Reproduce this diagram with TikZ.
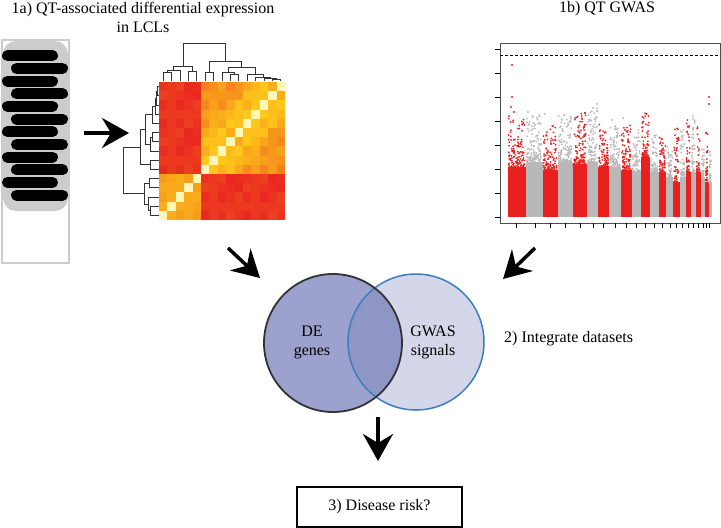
\documentclass[tikz,border=0pt]{standalone}
\usepackage{fontspec}
\setmainfont{Liberation Serif}
\usetikzlibrary{arrows.meta,positioning}
\definecolor{hmRed}{RGB}{233,36,32}
\definecolor{hmYel}{RGB}{255,214,26}
\definecolor{hmPale}{RGB}{255,246,184}
\definecolor{gwRed}{RGB}{232,32,30}
\definecolor{gwGray}{RGB}{184,184,184}
\definecolor{tubeGray}{RGB}{204,204,204}
\definecolor{vennA}{RGB}{157,161,205}
\definecolor{vennB}{RGB}{212,214,233}
\definecolor{vennAB}{RGB}{143,149,196}
\definecolor{vennLine}{RGB}{60,125,192}
% dendrogram joins: top (x1,x2,height,h1,h2) and left (y1,y2,depth,d1,d2)
\def\TJ#1#2#3#4#5{\draw[dendro] (#1,#4) |- (#2,#3) -- (#2,#5);}
\def\LJ#1#2#3#4#5{\draw[dendro] (#4,#1) -| (#3,#2) -- (#5,#2);}

\begin{document}
\begin{tikzpicture}[x=1pt,y=-1pt,
  dendro/.style={line width=0.8pt,black!80},
  bigarrow/.style={line width=3.5pt,-{Stealth[length=27pt,width=30pt,inset=9pt]}},
  bar/.style={line width=11pt,line cap=round},
  lbl/.style={font=\fontsize{16}{19}\selectfont,align=center,inner sep=0pt},
  tick/.style={line width=0.8pt}]
\useasboundingbox (0,0) rectangle (721,528);
\node[lbl] (titleA) at (143,17) {1a) QT-associated differential expression\\in LCLs};
\node[lbl] (titleB) at (607,9) {1b) QT GWAS};
% sample tube
\fill[tubeGray,rounded corners=13pt] (3,41) rectangle (68,211);
\draw[tubeGray,line width=2pt] (2,40) rectangle (69,263);
\foreach \k in {0,...,11}{
  \pgfmathsetmacro\yb{55.7+12.67*\k}
  \ifodd\k \draw[bar] (16.5,\yb) -- (62.5,\yb); \else \draw[bar] (7.5,\yb) -- (52.5,\yb); \fi
}
\coordinate (tubeOut) at (84,133);
\coordinate (heatIn) at (129,133);
\draw[bigarrow] (tubeOut) -- (heatIn);
% heatmap
\begin{scope}
\clip (159,81) rectangle (285,220);
\foreach \i in {0,...,14}{
  \foreach \j in {0,...,14}{
    \pgfmathsetmacro\n{mod(\i*\j*7+(\i+\j)*3,5)/4}
    \pgfmathsetmacro\sA{(\i<5)*(\j<5)}
    \pgfmathsetmacro\sB{(\i>4)*(\j>4)}
    \pgfmathtruncatemacro\pc{max(0,min(95,100*(\sA*(0.72+0.12*\n-0.03*abs(\i-\j))+\sB*(0.92-0.045*abs(\i-\j)+0.2*(\n-0.5))+(1-\sA-\sB)*(0.02+0.13*\n))))}
    \ifnum\i=\j\relax \def\cc{hmPale}\else \edef\cc{hmYel!\pc!hmRed}\fi
    \fill[\cc] (159+8.4*\i,220-9.2*\j) rectangle +(8.7,-9.5);
  }
}
\end{scope}
\TJ{163.2}{171.6}{72}{81}{81} \TJ{167.4}{180.0}{70}{72}{81}
\TJ{188.4}{196.8}{71}{81}{81} \TJ{173.7}{192.6}{66}{70}{71}
\TJ{205.2}{213.6}{72}{81}{81} \TJ{230.4}{238.8}{74}{81}{81}
\TJ{222.0}{234.6}{72}{81}{74} \TJ{272.4}{280.8}{79}{81}{81}
\TJ{264.0}{276.6}{78}{81}{79} \TJ{255.6}{270.3}{77}{81}{78}
\TJ{247.2}{262.95}{74}{81}{77} \TJ{228.3}{255.1}{67}{72}{74}
\TJ{209.4}{241.7}{61}{72}{67} \TJ{183.15}{225.55}{43}{66}{61}
\LJ{215.4}{206.2}{150.5}{159}{159} \LJ{210.8}{197.0}{148.6}{150.5}{159}
\LJ{187.8}{178.6}{149.5}{159}{159} \LJ{203.9}{183.2}{144.8}{148.6}{149.5}
\LJ{169.4}{160.2}{150.5}{159}{159} \LJ{141.8}{132.6}{152.4}{159}{159}
\LJ{151.0}{137.2}{150.5}{159}{152.4} \LJ{95.8}{86.6}{157.1}{159}{159}
\LJ{105.0}{91.2}{156.2}{159}{157.1} \LJ{114.2}{98.1}{155.2}{159}{156.2}
\LJ{123.4}{106.15}{152.4}{159}{155.2} \LJ{144.1}{114.8}{145.7}{150.5}{152.4}
\LJ{164.8}{129.45}{140.0}{150.5}{145.7} \LJ{193.55}{147.1}{123}{144.8}{140.0}
% manhattan plot
\begin{scope}
\pgfmathsetseed{11}
\foreach \bl/\br/\s/\p/\cl in {507.7/525.8/155/118/gwRed, 525.8/542.5/150/115/gwGray,
  542.5/557.5/158/125/gwRed, 557.5/572.5/150/115/gwGray, 572.5/586.7/152/112/gwRed,
  586.7/598.3/150/108/gwGray, 598.3/609.2/155/122/gwRed, 609.2/620.8/155/125/gwGray,
  620.8/631.7/158/123/gwRed, 631.7/641.2/160/130/gwGray, 641.2/650/145/113/gwRed,
  650/658.5/160/135/gwGray, 658.5/666.3/160/137/gwRed, 666.3/673.3/165/145/gwGray,
  673.3/679.7/170/128/gwRed, 679.7/685.5/165/125/gwGray, 685.5/690.8/160/120/gwRed,
  690.8/695.8/160/112/gwGray, 695.8/700.8/160/127/gwRed, 700.8/705/165/140/gwGray,
  705/708.5/170/120/gwRed, 708.5/712/170/150/gwGray}{
  \fill[\cl] (\bl,217) rectangle (\br,\s+12);
  \pgfmathtruncatemacro\N{11*(\br-\bl)}
  \foreach \k in {1,...,\N}{
    \pgfmathsetmacro\px{\bl+0.9+(\br-\bl-1.8)*rnd}
    \pgfmathsetmacro\py{\s+14-(\s+14-\p)*pow(rnd,3)}
    \fill[\cl] (\px,\py) circle (1.0);
  }
}
% top hits
\foreach \x/\y in {512/65, 512/97, 511/107, 514/112, 509/116, 709/97, 709/104}
  \fill[gwRed] (\x,\y) circle (1.1);
\foreach \x/\y in {528/112, 545/114, 593/108, 597/104, 612/120, 623/118}
  \fill[gwGray] (\x,\y) circle (1.1);
\end{scope}
\draw[black!70,line width=1pt] (500,43) rectangle (720,223);
\draw[line width=0.9pt,dash pattern=on 3pt off 2pt] (500,55) -- (720,55);
\foreach \y in {49,73,...,217} \draw[tick] (495,\y) -- (500,\y);
\foreach \x in {516.7,535,550,565,580,593.3,603.3,615,626.7,636.7,645.7,654.3,662.7,670,676.7,682.7,688.3,693.3,698.3,703.3,706.7,709.3}
  \draw[tick] (\x,223) -- (\x,228);
% venn diagram
\node[circle,minimum size=138pt,inner sep=0pt] (de) at (333,343) {};
\node[circle,minimum size=136pt,inner sep=0pt] (gw) at (416,342) {};
\fill[vennB] (gw.center) circle (68);
\fill[vennA] (de.center) circle (69);
\begin{scope}
\clip (de.center) circle (69);
\fill[vennAB] (gw.center) circle (68);
\end{scope}
\draw[vennLine,line width=1.5pt] (gw.center) circle (68);
\draw[black!80,line width=1.8pt] (de.center) circle (69);
\node[lbl] (deT) at (312,342) {DE\\genes};
\node[lbl] (gwT) at (433,342) {GWAS\\signals};
\node[lbl,anchor=west] (integ) at (504,339) {2) Integrate datasets};
\coordinate (heatOut) at (228,248);
\coordinate (deIn) at (260,278);
\coordinate (gwasOut) at (535,248);
\coordinate (gwIn) at (503,279);
\draw[bigarrow] (heatOut) -- (deIn);
\draw[bigarrow] (gwasOut) -- (gwIn);
% disease risk
\node[draw,line width=1.5pt,minimum width=165pt,minimum height=40pt,lbl] (risk) at (379.5,507) {3) Disease risk?};
\coordinate (vennOut) at (378,417);
\coordinate (riskIn) at (378,461);
\draw[bigarrow] (vennOut) -- (riskIn);
\end{tikzpicture}
\end{document}
